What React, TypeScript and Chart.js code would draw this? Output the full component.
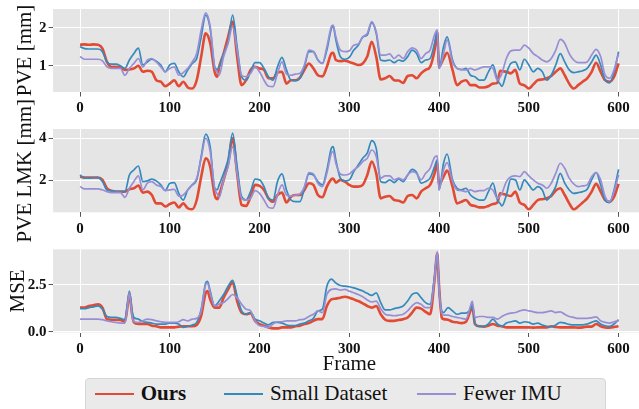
import React, { useEffect, useRef } from 'react';
import { Chart, registerables } from 'chart.js';

Chart.register(...registerables);

// ---------- data ----------
const SERIES_NAMES = ['Ours', 'Small Dataset', 'Fewer IMU'];
const X_TICKS = [0, 100, 200, 300, 400, 500, 600];
const PVE_TICKS = [1, 2];
const LMK_TICKS = [2, 4];
const MSE_TICKS = [0, 2.5];

const FRAMES_A = [
  0, 5, 10, 15, 20, 25, 30, 35, 40, 45,
  50, 55, 60, 65, 70, 75, 80, 85, 90, 95,
  100, 105, 110, 115, 120, 125, 130, 135, 140, 145,
  150, 153, 155, 160, 165, 170, 175, 180, 185, 190,
  195, 200, 205, 210, 215, 220, 225, 230, 235, 240,
  245, 250, 255, 260, 265, 270, 275, 280, 282, 285,
  290, 295, 300, 305, 310, 315, 320, 325, 330, 335,
  340, 345, 350, 355, 360, 365, 370, 375, 380, 385,
  390, 395, 398, 400, 405, 409, 415, 420, 425, 430,
  435, 440, 445, 450, 455, 460, 465, 468, 470, 475,
  480, 485, 490, 495, 500, 505, 510, 515, 520, 525,
  530, 535, 540, 545, 550, 555, 560, 565, 570, 575,
  580, 585, 590, 595, 600,
];

const PVE_OURS = [
  1.55, 1.56, 1.55, 1.56, 1.55, 1.45, 1.10, 0.97, 0.97, 0.96,
  0.89, 0.90, 0.93, 1.00, 0.84, 0.87, 0.84, 0.62, 0.58, 0.46,
  0.53, 0.62, 0.46, 0.58, 0.43, 0.40, 0.62, 1.24, 1.85, 1.59,
  0.84, 0.71, 0.97, 1.32, 1.76, 2.16, 1.24, 0.49, 0.62, 0.89,
  0.97, 0.93, 0.89, 0.67, 0.67, 0.82, 0.84, 0.53, 0.62, 0.62,
  0.69, 0.89, 1.06, 0.93, 0.75, 0.72, 0.97, 1.32, 1.34, 1.15,
  1.12, 1.13, 1.10, 1.06, 1.02, 1.06, 1.24, 1.63, 1.24, 0.64,
  0.67, 0.73, 0.62, 0.61, 0.55, 0.73, 0.75, 0.67, 0.80, 0.89,
  0.97, 1.41, 1.89, 0.97, 1.19, 1.34, 0.89, 0.49, 0.58, 0.62,
  0.49, 0.49, 0.43, 0.43, 0.46, 0.53, 0.55, 0.87, 0.86, 0.84,
  0.80, 0.89, 0.53, 0.49, 0.40, 0.51, 0.62, 0.64, 0.67, 0.73,
  0.84, 0.93, 0.75, 0.53, 0.40, 0.49, 0.58, 0.67, 0.84, 1.08,
  0.84, 0.62, 0.58, 0.71, 1.06,
];
const PVE_SMALL = [
  1.50, 1.45, 1.44, 1.44, 1.44, 1.37, 1.10, 1.04, 1.04, 1.00,
  0.93, 1.15, 1.32, 1.46, 1.02, 1.10, 1.17, 1.12, 1.02, 0.84,
  1.02, 1.06, 0.84, 0.71, 0.89, 1.06, 1.19, 1.76, 2.33, 1.98,
  0.97, 0.90, 0.97, 1.32, 1.63, 2.33, 1.50, 0.71, 0.62, 0.84,
  1.08, 1.08, 0.93, 0.71, 0.62, 0.97, 1.22, 0.89, 0.62, 0.61,
  0.67, 0.97, 1.37, 1.37, 1.15, 1.06, 1.41, 1.98, 2.04, 1.68,
  1.24, 1.17, 1.22, 1.41, 1.54, 1.75, 1.81, 2.13, 1.85, 1.15,
  1.13, 1.15, 1.08, 1.15, 1.12, 1.24, 1.41, 1.32, 1.08, 1.15,
  1.19, 1.59, 1.89, 0.93, 1.50, 1.76, 1.15, 0.93, 0.90, 0.93,
  0.75, 0.71, 0.62, 0.62, 0.84, 1.02, 0.62, 0.52, 0.46, 0.80,
  1.06, 1.10, 0.89, 1.17, 1.02, 0.84, 0.93, 0.84, 0.62, 0.75,
  1.02, 1.32, 1.10, 0.89, 0.82, 0.84, 0.87, 0.93, 1.10, 1.28,
  1.02, 0.62, 0.55, 0.84, 1.37,
];
const PVE_FEWER = [
  1.24, 1.17, 1.17, 1.17, 1.17, 1.13, 0.97, 0.93, 0.93, 0.93,
  0.75, 0.93, 1.06, 1.19, 0.97, 1.15, 1.19, 1.10, 0.97, 0.84,
  0.93, 0.97, 0.75, 0.82, 0.93, 1.10, 1.32, 1.94, 2.39, 2.03,
  0.97, 0.82, 0.75, 1.24, 1.59, 2.03, 1.41, 0.75, 0.71, 0.80,
  0.97, 0.84, 0.62, 0.46, 0.45, 0.80, 1.10, 0.78, 0.75, 0.78,
  0.80, 1.02, 1.41, 1.37, 1.15, 1.06, 1.50, 2.03, 2.07, 1.76,
  1.41, 1.37, 1.39, 1.54, 1.57, 1.76, 1.85, 2.16, 1.89, 1.28,
  1.28, 1.31, 1.19, 1.28, 1.19, 1.37, 1.47, 1.41, 1.19, 1.32,
  1.41, 1.81, 1.94, 0.93, 1.32, 1.68, 1.10, 0.93, 0.90, 0.89,
  0.93, 0.89, 0.93, 0.97, 0.97, 0.93, 0.62, 0.70, 0.80, 1.19,
  1.39, 1.41, 1.41, 1.54, 1.46, 1.32, 1.24, 1.15, 1.10, 1.19,
  1.41, 1.69, 1.59, 1.32, 1.15, 1.08, 1.08, 1.10, 1.28, 1.43,
  1.24, 0.75, 0.67, 0.89, 1.32,
];

const LMK_OURS = [
  2.17, 2.13, 2.13, 2.13, 2.13, 2.02, 1.62, 1.50, 1.46, 1.46,
  1.46, 1.57, 1.62, 1.75, 1.41, 1.46, 1.30, 0.90, 0.90, 0.75,
  0.87, 0.94, 0.71, 0.90, 0.67, 0.62, 1.06, 2.17, 3.05, 2.65,
  1.30, 1.10, 1.30, 2.02, 2.81, 4.00, 2.33, 0.83, 0.78, 1.22,
  1.78, 1.73, 1.54, 1.14, 0.98, 1.30, 1.41, 0.94, 1.22, 1.30,
  1.30, 1.54, 1.86, 1.78, 1.30, 1.19, 1.70, 2.05, 2.08, 1.89,
  2.02, 1.94, 1.78, 1.70, 1.70, 1.78, 2.25, 2.89, 2.33, 1.14,
  1.22, 1.25, 1.06, 1.03, 0.94, 1.25, 1.30, 1.14, 1.46, 1.62,
  1.78, 2.33, 2.84, 1.78, 2.17, 2.46, 1.70, 0.90, 0.98, 1.06,
  0.83, 0.78, 0.71, 0.71, 0.78, 0.87, 0.94, 1.38, 1.36, 1.30,
  1.25, 1.46, 0.94, 0.83, 0.62, 0.83, 1.06, 1.10, 1.14, 1.25,
  1.51, 1.62, 1.30, 0.90, 0.62, 0.75, 0.94, 1.14, 1.46, 1.83,
  1.46, 1.06, 0.98, 1.22, 1.83,
];
const LMK_SMALL = [
  2.25, 2.10, 2.10, 2.12, 2.13, 1.94, 1.54, 1.50, 1.46, 1.46,
  1.46, 2.25, 2.49, 2.68, 1.94, 1.97, 2.05, 1.97, 1.78, 1.51,
  1.86, 1.89, 1.38, 1.06, 1.54, 1.78, 2.02, 3.13, 4.20, 3.60,
  1.62, 1.55, 1.78, 2.33, 3.00, 4.24, 2.65, 1.22, 1.06, 1.46,
  2.05, 2.02, 1.70, 1.14, 1.06, 1.94, 2.30, 1.54, 1.06, 0.98,
  0.98, 1.62, 2.30, 2.25, 1.94, 1.78, 2.49, 3.52, 3.60, 2.97,
  2.10, 1.97, 2.02, 2.41, 2.73, 3.05, 3.29, 3.89, 3.52, 1.94,
  1.89, 2.02, 1.89, 2.05, 1.94, 2.25, 2.52, 2.37, 1.86, 1.94,
  2.10, 2.65, 2.97, 1.54, 2.81, 3.25, 2.02, 1.62, 1.54, 1.62,
  1.30, 1.14, 1.06, 1.06, 1.46, 1.86, 1.06, 0.90, 0.78, 1.30,
  2.05, 2.02, 1.54, 2.02, 1.78, 1.54, 1.70, 1.54, 1.06, 1.30,
  1.70, 2.33, 1.86, 1.54, 1.38, 1.41, 1.46, 1.57, 2.02, 2.37,
  1.78, 1.06, 0.94, 1.54, 2.52,
];
const LMK_FEWER = [
  1.70, 1.59, 1.59, 1.59, 1.59, 1.54, 1.46, 1.41, 1.41, 1.41,
  1.19, 1.62, 1.94, 2.21, 1.54, 1.86, 1.94, 1.78, 1.70, 1.51,
  1.54, 1.57, 1.25, 1.30, 1.54, 1.78, 2.10, 3.05, 4.00, 3.37,
  1.62, 1.35, 1.19, 2.02, 2.65, 3.60, 2.33, 1.14, 1.06, 1.14,
  1.51, 1.38, 1.06, 0.71, 0.67, 1.30, 1.78, 1.30, 1.25, 1.30,
  1.35, 1.70, 2.37, 2.30, 1.86, 1.70, 2.33, 3.29, 3.37, 2.81,
  2.30, 2.25, 2.30, 2.49, 2.65, 2.89, 3.05, 3.44, 3.13, 2.10,
  2.21, 2.21, 2.02, 2.10, 2.02, 2.25, 2.41, 2.33, 2.02, 2.33,
  2.57, 3.10, 3.16, 1.54, 2.49, 2.84, 1.94, 1.54, 1.51, 1.46,
  1.54, 1.46, 1.51, 1.51, 1.62, 1.54, 1.14, 1.25, 1.38, 1.94,
  2.17, 2.21, 2.17, 2.41, 2.21, 2.02, 1.86, 1.78, 1.62, 1.86,
  2.33, 2.81, 2.57, 2.10, 1.83, 1.70, 1.73, 1.78, 2.17, 2.37,
  2.02, 1.22, 0.98, 1.46, 2.25,
];

const FRAMES_B = [
  0, 5, 10, 15, 20, 25, 30, 35, 40, 45,
  50, 53, 55, 58, 60, 65, 70, 75, 80, 85,
  90, 95, 100, 105, 110, 115, 120, 125, 130, 135,
  140, 142, 145, 150, 155, 160, 165, 170, 175, 180,
  185, 190, 195, 200, 205, 210, 215, 220, 225, 230,
  235, 240, 245, 250, 255, 260, 265, 270, 275, 280,
  285, 290, 295, 300, 305, 310, 315, 320, 325, 330,
  335, 340, 345, 350, 355, 360, 365, 370, 375, 380,
  385, 390, 395, 398, 400, 403, 405, 410, 415, 420,
  425, 430, 435, 437, 440, 445, 450, 455, 460, 465,
  470, 475, 480, 485, 490, 495, 500, 505, 510, 515,
  520, 525, 530, 535, 540, 545, 550, 555, 560, 565,
  570, 575, 580, 585, 590, 595, 600,
];

const MSE_OURS = [
  1.29, 1.29, 1.38, 1.42, 1.47, 1.29, 0.68, 0.65, 0.65, 0.63,
  0.54, 1.38, 2.05, 0.94, 0.51, 0.42, 0.42, 0.42, 0.33, 0.30,
  0.24, 0.24, 0.24, 0.24, 0.28, 0.30, 0.30, 0.30, 0.37, 0.86,
  2.08, 2.17, 1.73, 1.29, 1.29, 1.82, 2.26, 2.64, 1.64, 1.03,
  0.94, 1.00, 0.59, 0.42, 0.33, 0.24, 0.19, 0.19, 0.24, 0.24,
  0.24, 0.30, 0.33, 0.42, 0.47, 0.59, 0.68, 0.68, 1.38, 1.73,
  1.77, 1.82, 1.87, 1.82, 1.73, 1.64, 1.52, 1.38, 1.29, 1.38,
  0.94, 0.65, 0.59, 0.59, 0.63, 0.68, 0.77, 1.03, 1.29, 1.24,
  1.07, 0.94, 2.78, 4.18, 2.43, 0.77, 0.68, 0.65, 0.54, 0.51,
  0.47, 0.54, 1.12, 1.38, 0.42, 0.30, 0.28, 0.33, 0.42, 0.33,
  0.30, 0.24, 0.24, 0.24, 0.24, 0.24, 0.24, 0.23, 0.24, 0.24,
  0.24, 0.30, 0.26, 0.24, 0.24, 0.24, 0.24, 0.23, 0.24, 0.28,
  0.28, 0.42, 0.30, 0.24, 0.23, 0.26, 0.30,
];
const MSE_SMALL = [
  1.24, 1.24, 1.29, 1.33, 1.38, 1.21, 0.82, 0.77, 0.77, 0.72,
  0.65, 1.56, 2.17, 1.12, 0.77, 0.68, 0.54, 0.51, 0.47, 0.42,
  0.42, 0.42, 0.47, 0.47, 0.42, 0.24, 0.30, 0.37, 0.51, 1.21,
  2.60, 2.69, 2.17, 1.38, 1.64, 1.99, 2.43, 2.74, 1.91, 1.12,
  0.94, 1.03, 0.68, 0.59, 0.47, 0.37, 0.51, 0.51, 0.47, 0.37,
  0.33, 0.33, 0.42, 0.47, 0.59, 0.72, 1.12, 1.21, 2.43, 2.81,
  2.60, 2.47, 2.43, 2.40, 2.34, 2.26, 2.17, 2.05, 1.94, 2.08,
  1.56, 1.17, 1.17, 1.24, 1.29, 1.38, 1.64, 1.99, 2.08, 1.82,
  1.56, 1.47, 2.95, 4.18, 2.26, 1.12, 1.03, 1.29, 1.12, 0.94,
  1.00, 1.00, 1.21, 1.47, 0.42, 0.30, 0.30, 0.42, 0.68, 0.42,
  0.30, 0.47, 0.54, 0.59, 0.47, 0.54, 0.51, 0.42, 0.47, 0.37,
  0.30, 0.28, 0.37, 0.51, 0.47, 0.40, 0.37, 0.37, 0.37, 0.42,
  0.51, 0.59, 0.42, 0.33, 0.30, 0.42, 0.65,
];
const MSE_FEWER = [
  0.68, 0.68, 0.68, 0.68, 0.68, 0.65, 0.59, 0.54, 0.51, 0.47,
  0.47, 1.38, 2.08, 0.86, 0.54, 0.51, 0.59, 0.68, 0.65, 0.59,
  0.54, 0.51, 0.51, 0.51, 0.54, 0.65, 0.59, 0.68, 0.72, 1.12,
  2.52, 2.60, 2.08, 1.38, 1.47, 1.56, 1.77, 1.99, 1.82, 1.47,
  1.21, 1.12, 0.59, 0.33, 0.30, 0.24, 0.42, 0.54, 0.54, 0.59,
  0.59, 0.59, 0.65, 0.68, 0.82, 0.94, 1.12, 1.03, 1.99, 2.26,
  2.29, 2.22, 2.26, 2.17, 2.08, 1.99, 1.87, 1.70, 1.59, 1.64,
  1.24, 0.94, 0.89, 0.86, 0.89, 0.94, 1.12, 1.38, 1.56, 1.47,
  1.29, 1.29, 2.87, 4.27, 2.34, 1.00, 0.89, 0.89, 0.82, 0.77,
  0.72, 0.68, 1.38, 1.64, 0.77, 0.82, 0.82, 0.77, 0.77, 0.68,
  0.82, 0.94, 1.00, 1.03, 1.12, 1.17, 1.12, 1.07, 1.03, 1.03,
  1.07, 1.12, 1.03, 1.07, 0.94, 0.82, 0.77, 0.72, 0.72, 0.72,
  0.75, 0.80, 0.59, 0.51, 0.47, 0.54, 0.59,
];

// ---------- styling ----------
const COLORS = ['#E24A33', '#348ABD', '#988ED5'];
const WIDTHS = [2.6, 1.7, 1.7];
const SERIF = "'Liberation Serif', 'Times New Roman', serif";
const PLOT_BG = '#E5E5E5';
const CANVAS_W = 680;
const AREA_LEFT = 53.1;
const AREA_RIGHT = 645.5;

const bgPlugin = {
  id: 'plotBg',
  beforeDraw(chart: any) {
    const { ctx, chartArea: a } = chart;
    ctx.save();
    ctx.fillStyle = PLOT_BG;
    ctx.fillRect(a.left, a.top, a.right - a.left, a.bottom - a.top);
    ctx.restore();
  },
};

type PanelProps = {
  frames: number[];
  series: number[][];
  yMin: number;
  yMax: number;
  yTicks: number[];
  yTitle: string;
  yTitlePad: number;
  decimals: number;
  canvasTop: number;
  canvasHeight: number;
  padTop: number;
  xHeight: number;
  xTitle?: string;
};

function Panel(p: PanelProps) {
  const ref = useRef<HTMLCanvasElement>(null);
  useEffect(() => {
    const chart = new Chart(ref.current as HTMLCanvasElement, {
      type: 'line',
      data: {
        datasets: p.series.map((vals, i) => ({
          label: SERIES_NAMES[i],
          data: p.frames.map((f, j) => ({ x: f, y: vals[j] })),
          borderColor: COLORS[i],
          backgroundColor: COLORS[i],
          borderWidth: WIDTHS[i],
          pointRadius: 0,
          fill: false,
          cubicInterpolationMode: 'monotone',
          order: 3 - i,
        })),
      },
      options: {
        responsive: false,
        animation: false,
        events: [],
        layout: { padding: { top: p.padTop, left: 0, right: CANVAS_W - AREA_RIGHT, bottom: 0 } },
        plugins: { legend: { display: false }, tooltip: { enabled: false } },
        scales: {
          x: {
            type: 'linear',
            min: -30,
            max: 630,
            afterBuildTicks: (s: any) => {
              s.ticks = X_TICKS.map((v) => ({ value: v }));
            },
            afterFit: (s: any) => {
              s.height = p.xHeight;
            },
            grid: { color: '#FFFFFF', lineWidth: 1, tickColor: '#555555', tickLength: 4.5, drawTicks: true },
            border: { display: false },
            ticks: {
              font: { family: SERIF, size: 15, weight: 'bold' },
              color: '#111111',
              padding: 3,
              maxRotation: 0,
              autoSkip: false,
              callback: (v: any) => String(v),
            },
            title: p.xTitle
              ? {
                  display: true,
                  text: p.xTitle,
                  font: { family: SERIF, size: 21 },
                  color: '#111111',
                  padding: { top: 0, bottom: 5.5 },
                }
              : { display: false },
          },
          y: {
            type: 'linear',
            min: p.yMin,
            max: p.yMax,
            afterBuildTicks: (s: any) => {
              s.ticks = p.yTicks.map((v) => ({ value: v }));
            },
            afterFit: (s: any) => {
              s.width = AREA_LEFT;
            },
            grid: { color: '#FFFFFF', lineWidth: 1, tickColor: '#555555', tickLength: 4.5, drawTicks: true },
            border: { display: false },
            ticks: {
              font: { family: SERIF, size: 15, weight: 'bold' },
              color: '#111111',
              padding: 2,
              callback: (v: any) => Number(v).toFixed(p.decimals),
            },
            title: {
              display: true,
              text: p.yTitle,
              font: { family: SERIF, size: 21 },
              color: '#111111',
              padding: { top: p.yTitlePad, bottom: 0 },
            },
          },
        },
      } as any,
      plugins: [bgPlugin],
    });
    return () => chart.destroy();
  }, []);
  return (
    <canvas
      ref={ref}
      width={CANVAS_W}
      height={p.canvasHeight}
      style={{ position: 'absolute', left: 0, top: p.canvasTop, width: CANVAS_W, height: p.canvasHeight }}
    />
  );
}

function LegendItem({ x, textX, color, width, label, bold }: any) {
  return (
    <>
      <div
        style={{
          position: 'absolute',
          left: x,
          top: 394 - width / 2,
          width: 39,
          height: width,
          background: color,
        }}
      />
      <div
        style={{
          position: 'absolute',
          left: textX,
          top: 383.4,
          fontFamily: SERIF,
          fontSize: 21,
          lineHeight: '21px',
          fontWeight: bold ? 'bold' : 'normal',
          color: '#111111',
          whiteSpace: 'nowrap',
        }}
      >
        {label}
      </div>
    </>
  );
}

export default function App() {
  return (
    <div
      style={{
        position: 'absolute',
        left: 0,
        top: 0,
        width: 639,
        height: 409,
        overflow: 'hidden',
        background: '#FFFFFF',
      }}
    >
      <Panel
        frames={FRAMES_A}
        series={[PVE_OURS, PVE_SMALL, PVE_FEWER]}
        yMin={0.31}
        yMax={2.49}
        yTicks={PVE_TICKS}
        yTitle="PVE [mm]"
        yTitlePad={12.8}
        decimals={0}
        canvasTop={-31}
        canvasHeight={153}
        padTop={40}
        xHeight={30}
      />
      <Panel
        frames={FRAMES_A}
        series={[LMK_OURS, LMK_SMALL, LMK_FEWER]}
        yMin={0.476}
        yMax={4.44}
        yTicks={LMK_TICKS}
        yTitle="PVE LMK [mm]"
        yTitlePad={12.8}
        decimals={0}
        canvasTop={89}
        canvasHeight={154}
        padTop={40}
        xHeight={30.7}
      />
      <Panel
        frames={FRAMES_B}
        series={[MSE_OURS, MSE_SMALL, MSE_FEWER]}
        yMin={-0.03}
        yMax={4.39}
        yTicks={MSE_TICKS}
        yTitle="MSE"
        yTitlePad={6.1}
        decimals={1}
        canvasTop={209}
        canvasHeight={174}
        padTop={40.3}
        xHeight={50.5}
        xTitle="Frame"
      />
      <div
        style={{
          position: 'absolute',
          left: 85,
          top: 378.3,
          width: 521,
          height: 40,
          boxSizing: 'border-box',
          background: '#EAEAEA',
          border: '1px solid #D6D6D6',
          borderRadius: 4,
        }}
      />
      <LegendItem x={95} textX={140.7} color={COLORS[0]} width={2.6} label={SERIES_NAMES[0]} bold />
      <LegendItem x={224} textX={270} color={COLORS[1]} width={1.7} label={SERIES_NAMES[1]} />
      <LegendItem x={416.7} textX={463} color={COLORS[2]} width={1.7} label={SERIES_NAMES[2]} />
    </div>
  );
}
